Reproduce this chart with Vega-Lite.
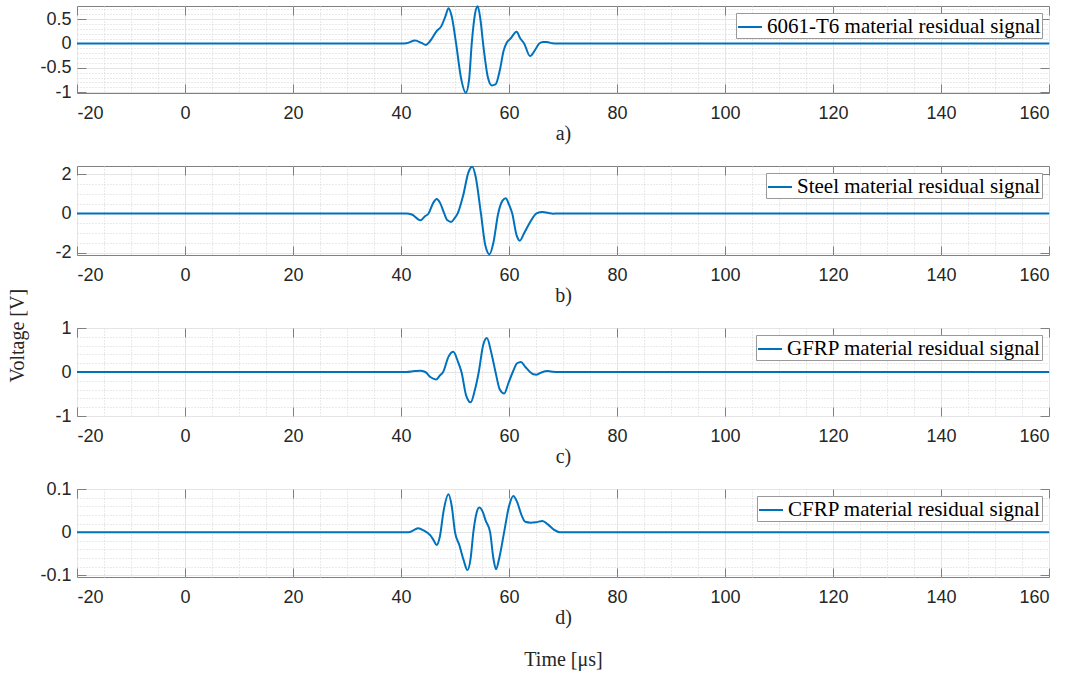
{
"$schema": "https://vega.github.io/schema/vega-lite/v6.json",
"padding": {"left": 8, "top": 1, "right": 5, "bottom": 5},
"title": {"text": "Voltage [V]", "orient": "left", "anchor": "middle", "font": "Liberation Serif", "fontSize": 20, "fontWeight": "normal", "color": "#262626", "offset": 11},
"bounds": "flush",
"spacing": 73,
"resolve": {"scale": {"color": "independent"}, "legend": {"color": "independent"}},
"config": {
  "view": {"stroke": "#808080", "strokeWidth": 1},
  "axis": {"labelFont": "Liberation Sans", "labelFontSize": 18, "labelColor": "#262626", "tickColor": "#808080", "tickWidth": 1, "domain": false, "titleFont": "Liberation Serif", "titleFontSize": 20, "titleFontWeight": "normal", "titleColor": "#262626", "gridColor": "#e5e5e5", "gridWidth": 1, "gridOpacity": 1},
  "legend": {"orient": "top-right", "offset": 7, "fillColor": "white", "strokeColor": "#999999", "padding": 1, "labelFont": "Liberation Serif", "labelFontSize": 21, "labelColor": "#000000", "labelLimit": 500, "symbolType": "stroke", "symbolSize": 576, "symbolStrokeWidth": 2, "labelOffset": 4, "cornerRadius": 0}
},
"datasets": {
  "a": [{"t":-20,"v":0},{"t":40,"v":0},{"t":41,"v":0.005},{"t":42.6,"v":0.06},{"t":43.8,"v":0.01},{"t":44.6,"v":-0.03},{"t":45.4,"v":0.05},{"t":46.6,"v":0.25},{"t":47.5,"v":0.36},{"t":48.2,"v":0.55},{"t":48.8,"v":0.72},{"t":49.4,"v":0.55},{"t":50.2,"v":0},{"t":51.1,"v":-0.7},{"t":52.0,"v":-1.01},{"t":52.6,"v":-0.75},{"t":53.1,"v":0},{"t":53.7,"v":0.6},{"t":54.2,"v":0.76},{"t":54.7,"v":0.5},{"t":55.2,"v":0},{"t":56.1,"v":-0.7},{"t":56.8,"v":-0.86},{"t":57.5,"v":-0.84},{"t":58.3,"v":-0.55},{"t":59.0,"v":-0.15},{"t":59.6,"v":0.02},{"t":60.3,"v":0.1},{"t":61.4,"v":0.24},{"t":62.1,"v":0.1},{"t":62.8,"v":0},{"t":63.9,"v":-0.26},{"t":64.8,"v":-0.14},{"t":65.6,"v":0},{"t":66.3,"v":0.03},{"t":67.0,"v":0.03},{"t":68.0,"v":0.005},{"t":69,"v":0},{"t":160,"v":0}],
  "b": [{"t":-20,"v":0},{"t":41,"v":0},{"t":42.0,"v":-0.05},{"t":43.6,"v":-0.35},{"t":44.4,"v":-0.15},{"t":45.1,"v":0},{"t":46.0,"v":0.55},{"t":46.6,"v":0.73},{"t":47.3,"v":0.5},{"t":48.0,"v":0},{"t":48.6,"v":-0.35},{"t":49.3,"v":-0.43},{"t":49.9,"v":-0.25},{"t":50.5,"v":0},{"t":51.5,"v":0.9},{"t":52.5,"v":2.1},{"t":53.2,"v":2.37},{"t":53.8,"v":1.9},{"t":54.8,"v":0},{"t":55.6,"v":-1.6},{"t":56.4,"v":-2.07},{"t":57.1,"v":-1.5},{"t":58.0,"v":0},{"t":58.8,"v":0.65},{"t":59.4,"v":0.77},{"t":60.0,"v":0.45},{"t":60.6,"v":0},{"t":61.4,"v":-1.1},{"t":62.0,"v":-1.38},{"t":62.8,"v":-1.0},{"t":63.9,"v":-0.45},{"t":65.1,"v":0},{"t":66.2,"v":0.07},{"t":67.2,"v":0.03},{"t":68.2,"v":-0.01},{"t":69,"v":0},{"t":160,"v":0}],
  "c": [{"t":-20,"v":0},{"t":41,"v":0},{"t":42.5,"v":0.02},{"t":43.5,"v":0.03},{"t":44.5,"v":0},{"t":45.5,"v":-0.12},{"t":46.5,"v":-0.17},{"t":47.2,"v":-0.08},{"t":47.8,"v":0},{"t":48.8,"v":0.35},{"t":49.7,"v":0.46},{"t":50.5,"v":0.25},{"t":51.2,"v":0},{"t":52.1,"v":-0.55},{"t":52.9,"v":-0.69},{"t":53.7,"v":-0.4},{"t":54.4,"v":0},{"t":55.2,"v":0.6},{"t":55.9,"v":0.77},{"t":56.7,"v":0.45},{"t":57.5,"v":0},{"t":58.3,"v":-0.4},{"t":59.1,"v":-0.49},{"t":59.9,"v":-0.25},{"t":60.7,"v":0},{"t":61.5,"v":0.2},{"t":62.2,"v":0.23},{"t":63.0,"v":0.12},{"t":63.9,"v":0},{"t":64.5,"v":-0.05},{"t":65.1,"v":-0.06},{"t":66.0,"v":-0.01},{"t":67.2,"v":0.02},{"t":68.2,"v":0.005},{"t":69,"v":0},{"t":160,"v":0}],
  "d": [{"t":-20,"v":0},{"t":41.4,"v":0},{"t":42.3,"v":0.004},{"t":43.2,"v":0.009},{"t":44.2,"v":0.004},{"t":45.4,"v":-0.007},{"t":46.1,"v":-0.02},{"t":46.6,"v":-0.03},{"t":47.2,"v":-0.01},{"t":47.9,"v":0.05},{"t":48.8,"v":0.088},{"t":49.4,"v":0.06},{"t":50.0,"v":0},{"t":50.8,"v":-0.03},{"t":51.6,"v":-0.065},{"t":52.3,"v":-0.088},{"t":52.9,"v":-0.06},{"t":53.4,"v":0},{"t":54.0,"v":0.045},{"t":54.5,"v":0.057},{"t":55.1,"v":0.048},{"t":55.7,"v":0.026},{"t":56.5,"v":0},{"t":57.1,"v":-0.06},{"t":57.6,"v":-0.086},{"t":58.2,"v":-0.06},{"t":59.1,"v":0},{"t":60.0,"v":0.06},{"t":60.8,"v":0.084},{"t":61.5,"v":0.07},{"t":62.3,"v":0.04},{"t":63.0,"v":0.024},{"t":64.0,"v":0.022},{"t":65.0,"v":0.023},{"t":66.2,"v":0.026},{"t":67.2,"v":0.018},{"t":68.3,"v":0.006},{"t":69.4,"v":0},{"t":160,"v":0}]
},
"vconcat": [
 {"width": 972, "height": 87, "data": {"name": "a"},
  "layer": [
   {"mark": {"type": "line", "opacity": 0},
    "encoding": {
     "x": {"field": "t", "type": "quantitative", "scale": {"domain": [-20, 160], "nice": false, "zero": false}, "axis": {"orient": "bottom", "values": [-15,-10,-5,5,10,15,25,30,35,45,50,55,65,70,75,85,90,95,105,110,115,125,130,135,145,150,155], "grid": true, "gridDash": [1, 2], "gridColor": "#d4d4d4", "labels": false, "ticks": false, "title": null}},
     "y": {"field": "v", "type": "quantitative", "scale": {"domain": [-1.016, 0.767], "nice": false, "zero": false}, "axis": {"orient": "left", "values": [-0.9,-0.8,-0.7,-0.6,-0.4,-0.3,-0.2,-0.1,0.1,0.2,0.3,0.4,0.6,0.7], "grid": true, "gridDash": [1, 2], "gridColor": "#d4d4d4", "labels": false, "ticks": false, "title": null}}}},
   {"mark": {"type": "line", "opacity": 0},
    "encoding": {
     "x": {"field": "t", "type": "quantitative", "axis": {"orient": "top", "values": [-20,0,20,40,60,80,100,120,140,160], "grid": false, "labels": false, "tickSize": -9, "title": null}},
     "y": {"field": "v", "type": "quantitative", "axis": {"orient": "right", "values": [-1,-0.5,0,0.5], "grid": false, "labels": false, "tickSize": -9, "title": null}}}},
   {"mark": {"type": "line", "strokeWidth": 2, "interpolate": "monotone"},
    "encoding": {
     "x": {"field": "t", "type": "quantitative", "axis": {"orient": "bottom", "values": [-20,0,20,40,60,80,100,120,140,160], "grid": true, "tickSize": -9, "labelPadding": 20, "labelExpr": "(datum.value<0?'-':'')+format(abs(datum.value),'d')", "title": "a)", "titlePadding": 1}},
     "y": {"field": "v", "type": "quantitative", "axis": {"orient": "left", "values": [-1,-0.5,0,0.5], "grid": true, "tickSize": -9, "labelPadding": 15, "labelExpr": "(datum.value<0?'-':'')+format(abs(datum.value),'~g')", "title": null}},
     "color": {"datum": "6061-T6 material residual signal", "scale": {"range": ["#0072BD"]}, "legend": {"title": null}}}}
  ],
  "resolve": {"axis": {"x": "independent", "y": "independent"}}},
 {"width": 972, "height": 89, "data": {"name": "b"},
  "layer": [
   {"mark": {"type": "line", "opacity": 0},
    "encoding": {
     "x": {"field": "t", "type": "quantitative", "scale": {"domain": [-20, 160], "nice": false, "zero": false}, "axis": {"orient": "bottom", "values": [-15,-10,-5,5,10,15,25,30,35,45,50,55,65,70,75,85,90,95,105,110,115,125,130,135,145,150,155], "grid": true, "gridDash": [1, 2], "gridColor": "#d4d4d4", "labels": false, "ticks": false, "title": null}},
     "y": {"field": "v", "type": "quantitative", "scale": {"domain": [-2.11, 2.41], "nice": false, "zero": false}, "axis": {"orient": "left", "values": [-1.5,-1,-0.5,0.5,1,1.5], "grid": true, "gridDash": [1, 2], "gridColor": "#d4d4d4", "labels": false, "ticks": false, "title": null}}}},
   {"mark": {"type": "line", "opacity": 0},
    "encoding": {
     "x": {"field": "t", "type": "quantitative", "axis": {"orient": "top", "values": [-20,0,20,40,60,80,100,120,140,160], "grid": false, "labels": false, "tickSize": -9, "title": null}},
     "y": {"field": "v", "type": "quantitative", "axis": {"orient": "right", "values": [-2,0,2], "grid": false, "labels": false, "tickSize": -9, "title": null}}}},
   {"mark": {"type": "line", "strokeWidth": 2, "interpolate": "monotone"},
    "encoding": {
     "x": {"field": "t", "type": "quantitative", "axis": {"orient": "bottom", "values": [-20,0,20,40,60,80,100,120,140,160], "grid": true, "tickSize": -9, "labelPadding": 20, "labelExpr": "(datum.value<0?'-':'')+format(abs(datum.value),'d')", "title": "b)", "titlePadding": 1}},
     "y": {"field": "v", "type": "quantitative", "axis": {"orient": "left", "values": [-2,0,2], "grid": true, "tickSize": -9, "labelPadding": 15, "labelExpr": "(datum.value<0?'-':'')+format(abs(datum.value),'~g')", "title": null}},
     "color": {"datum": "Steel material residual signal", "scale": {"range": ["#0072BD"]}, "legend": {"title": null}}}}
  ],
  "resolve": {"axis": {"x": "independent", "y": "independent"}}},
 {"width": 972, "height": 88, "data": {"name": "c"},
  "layer": [
   {"mark": {"type": "line", "opacity": 0},
    "encoding": {
     "x": {"field": "t", "type": "quantitative", "scale": {"domain": [-20, 160], "nice": false, "zero": false}, "axis": {"orient": "bottom", "values": [-15,-10,-5,5,10,15,25,30,35,45,50,55,65,70,75,85,90,95,105,110,115,125,130,135,145,150,155], "grid": true, "gridDash": [1, 2], "gridColor": "#d4d4d4", "labels": false, "ticks": false, "title": null}},
     "y": {"field": "v", "type": "quantitative", "scale": {"domain": [-1, 1], "nice": false, "zero": false}, "axis": {"orient": "left", "values": [-0.8,-0.6,-0.4,-0.2,0.2,0.4,0.6,0.8], "grid": true, "gridDash": [1, 2], "gridColor": "#d4d4d4", "labels": false, "ticks": false, "title": null}}}},
   {"mark": {"type": "line", "opacity": 0},
    "encoding": {
     "x": {"field": "t", "type": "quantitative", "axis": {"orient": "top", "values": [-20,0,20,40,60,80,100,120,140,160], "grid": false, "labels": false, "tickSize": -9, "title": null}},
     "y": {"field": "v", "type": "quantitative", "axis": {"orient": "right", "values": [-1,0,1], "grid": false, "labels": false, "tickSize": -9, "title": null}}}},
   {"mark": {"type": "line", "strokeWidth": 2, "interpolate": "monotone"},
    "encoding": {
     "x": {"field": "t", "type": "quantitative", "axis": {"orient": "bottom", "values": [-20,0,20,40,60,80,100,120,140,160], "grid": true, "tickSize": -9, "labelPadding": 20, "labelExpr": "(datum.value<0?'-':'')+format(abs(datum.value),'d')", "title": "c)", "titlePadding": 1}},
     "y": {"field": "v", "type": "quantitative", "axis": {"orient": "left", "values": [-1,0,1], "grid": true, "tickSize": -9, "labelPadding": 15, "labelExpr": "(datum.value<0?'-':'')+format(abs(datum.value),'~g')", "title": null}},
     "color": {"datum": "GFRP material residual signal", "scale": {"range": ["#0072BD"]}, "legend": {"title": null}}}}
  ],
  "resolve": {"axis": {"x": "independent", "y": "independent"}}},
 {"width": 972, "height": 88, "data": {"name": "d"},
  "layer": [
   {"mark": {"type": "line", "opacity": 0},
    "encoding": {
     "x": {"field": "t", "type": "quantitative", "scale": {"domain": [-20, 160], "nice": false, "zero": false}, "axis": {"orient": "bottom", "values": [-15,-10,-5,5,10,15,25,30,35,45,50,55,65,70,75,85,90,95,105,110,115,125,130,135,145,150,155], "grid": true, "gridDash": [1, 2], "gridColor": "#d4d4d4", "labels": false, "ticks": false, "title": null}},
     "y": {"field": "v", "type": "quantitative", "scale": {"domain": [-0.104, 0.1], "nice": false, "zero": false}, "axis": {"orient": "left", "values": [-0.08,-0.06,-0.04,-0.02,0.02,0.04,0.06,0.08], "grid": true, "gridDash": [1, 2], "gridColor": "#d4d4d4", "labels": false, "ticks": false, "title": null}}}},
   {"mark": {"type": "line", "opacity": 0},
    "encoding": {
     "x": {"field": "t", "type": "quantitative", "axis": {"orient": "top", "values": [-20,0,20,40,60,80,100,120,140,160], "grid": false, "labels": false, "tickSize": -9, "title": null}},
     "y": {"field": "v", "type": "quantitative", "axis": {"orient": "right", "values": [-0.1,0,0.1], "grid": false, "labels": false, "tickSize": -9, "title": null}}}},
   {"mark": {"type": "line", "strokeWidth": 2, "interpolate": "monotone"},
    "encoding": {
     "x": {"field": "t", "type": "quantitative", "axis": {"orient": "bottom", "values": [-20,0,20,40,60,80,100,120,140,160], "grid": true, "tickSize": -9, "labelPadding": 20, "labelExpr": "(datum.value<0?'-':'')+format(abs(datum.value),'d')", "title": ["d)", "Time [μs]"], "titleLineHeight": 42, "titlePadding": 1}},
     "y": {"field": "v", "type": "quantitative", "axis": {"orient": "left", "values": [-0.1,0,0.1], "grid": true, "tickSize": -9, "labelPadding": 15, "labelExpr": "(datum.value<0?'-':'')+format(abs(datum.value),'~g')", "title": null}},
     "color": {"datum": "CFRP material residual signal", "scale": {"range": ["#0072BD"]}, "legend": {"title": null}}}}
  ],
  "resolve": {"axis": {"x": "independent", "y": "independent"}}}
]
}
